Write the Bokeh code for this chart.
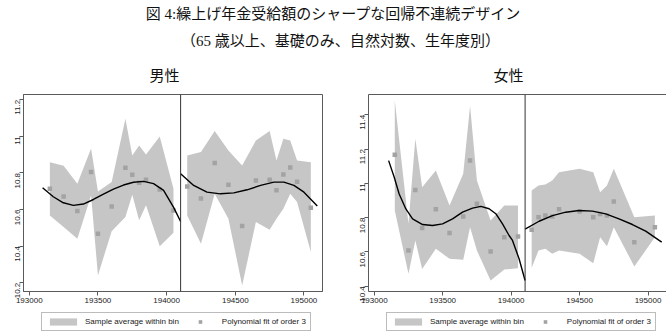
import math
from bokeh.plotting import figure
from bokeh.models import (Range1d, FixedTicker, LinearAxis, Legend, LegendItem,
                          Span, Label)
from bokeh.layouts import column, row
from bokeh.embed import file_html
from bokeh.resources import INLINE

# ---------------- texts ----------------
TITLE1 = "図 4:繰上げ年金受給額のシャープな回帰不連続デザイン"
TITLE2 = "（65 歳以上、基礎のみ、自然対数、生年度別）"
SUB_MALE = "男性"
SUB_FEMALE = "女性"
LEG_BAND = "Sample average within bin"
LEG_PTS = "Polynomial fit of order 3"

# ---------------- axes ----------------
X_TICKS = [193000, 193500, 194000, 194500, 195000]
X_TICK_LABELS = ["193000", "193500", "194000", "194500", "195000"]
X_RANGE = (192958, 195135)
CUTOFF = 194102

M_Y_TICKS = [10.2, 10.4, 10.6, 10.8, 11.0, 11.2]
M_Y_TICK_LABELS = ["10.2", "10.4", "10.6", "10.8", "11", "11.2"]
M_Y_RANGE = (10.152, 11.229)

F_Y_TICKS = [10.4, 10.6, 10.8, 11.0, 11.2, 11.4]
F_Y_TICK_LABELS = ["10.4", "10.6", "10.8", "11", "11.2", "11.4"]
F_Y_RANGE = (10.369, 11.519)

# ---------------- male data ----------------
m_bin_x_l = [193150, 193250, 193350, 193450, 193500, 193600, 193700, 193750, 193800, 193850, 193950, 194050]
m_val_l = [10.714, 10.672, 10.592, 10.805, 10.468, 10.617, 10.828, 10.790, 10.746, 10.763, 10.710, 10.595]
m_hi_l = [10.859, 10.839, 10.741, 10.934, 10.699, 10.750, 11.096, 10.896, 10.950, 10.901, 10.999, 10.714]
m_lo_l = [10.568, 10.504, 10.440, 10.677, 10.240, 10.482, 10.559, 10.681, 10.541, 10.623, 10.400, 10.473]

m_bin_x_r = [194150, 194250, 194350, 194450, 194550, 194650, 194750, 194800, 194850, 194900, 194950, 195050]
m_val_r = [10.726, 10.661, 10.854, 10.735, 10.510, 10.759, 10.763, 10.705, 10.792, 10.830, 10.752, 10.610]
m_hi_r = [10.896, 10.914, 11.029, 10.923, 10.841, 10.978, 11.029, 10.868, 10.987, 10.978, 10.868, 10.859]
m_lo_r = [10.568, 10.413, 10.686, 10.550, 10.185, 10.532, 10.490, 10.550, 10.604, 10.686, 10.641, 10.368]

m_fit_x_l = [193097, 193175, 193248, 193321, 193394, 193467, 193540, 193613, 193686, 193759, 193832, 193905, 193978, 194051, 194102]
m_fit_y_l = [10.719, 10.670, 10.637, 10.623, 10.630, 10.655, 10.684, 10.712, 10.734, 10.749, 10.754, 10.742, 10.705, 10.612, 10.535]
m_fit_x_r = [194102, 194197, 194294, 194392, 194489, 194586, 194684, 194781, 194854, 194927, 195000, 195097]
m_fit_y_r = [10.796, 10.732, 10.695, 10.686, 10.691, 10.708, 10.732, 10.750, 10.750, 10.732, 10.695, 10.620]

# ---------------- female data ----------------
f_bin_x_l = [193150, 193250, 193300, 193350, 193450, 193550, 193650, 193700, 193750, 193850, 193950, 194050]
f_val_l = [11.167, 10.608, 10.962, 10.739, 10.849, 10.711, 10.807, 11.133, 10.881, 10.602, 10.686, 10.690]
f_hi_l = [11.484, 10.764, 11.260, 10.978, 11.075, 10.871, 11.056, 11.454, 11.017, 10.783, 10.871, 10.871]
f_lo_l = [10.842, 10.472, 10.667, 10.500, 10.618, 10.560, 10.554, 10.744, 10.608, 10.433, 10.497, 10.505]

f_bin_x_r = [194150, 194200, 194250, 194300, 194350, 194500, 194600, 194650, 194700, 194750, 194900, 195050]
f_val_r = [10.729, 10.803, 10.812, 10.807, 10.849, 10.836, 10.803, 10.822, 10.812, 10.894, 10.657, 10.744]
f_hi_r = [10.958, 10.988, 10.993, 11.017, 11.065, 11.085, 11.065, 10.949, 10.988, 11.085, 10.803, 10.812]
f_lo_r = [10.507, 10.608, 10.618, 10.589, 10.608, 10.589, 10.534, 10.686, 10.633, 10.744, 10.515, 10.686]

f_fit_x_l = [193105, 193146, 193182, 193231, 193280, 193353, 193426, 193499, 193572, 193645, 193718, 193779, 193839, 193888, 193937, 193985, 194010, 194058, 194102]
f_fit_y_l = [11.133, 11.036, 10.938, 10.851, 10.793, 10.760, 10.754, 10.764, 10.793, 10.832, 10.856, 10.866, 10.852, 10.823, 10.764, 10.696, 10.667, 10.560, 10.433]
f_fit_x_r = [194102, 194204, 194302, 194399, 194496, 194594, 194691, 194788, 194886, 194983, 195100]
f_fit_y_r = [10.733, 10.779, 10.812, 10.832, 10.842, 10.838, 10.822, 10.793, 10.760, 10.721, 10.657]

# ---------------- styles ----------------
BAND = "#c6c6c6"
PTS = "#a3a3a3"
FRAME = "#5a5a5a"
TXT = "#1a1a1a"
SANS = "Liberation Sans"
SERIF = "'Liberation Serif', 'Noto Sans CJK JP', serif"


def style_axis(ax, ticks, labels, numeric_keys):
    ax.ticker = FixedTicker(ticks=ticks)
    if numeric_keys:
        ax.major_label_overrides = {int(t): l for t, l in zip(ticks, labels)}
    else:
        ax.major_label_overrides = {str(t): l for t, l in zip(ticks, labels)}
    ax.axis_line_color = FRAME
    ax.axis_line_width = 1
    ax.major_tick_line_color = FRAME
    ax.minor_tick_line_color = None
    ax.major_tick_out = 4
    ax.major_tick_in = 0
    ax.major_label_standoff = 2
    ax.major_label_text_font = SANS
    ax.major_label_text_font_size = "8px"
    ax.major_label_text_color = TXT


def panel(fw, bl, br, yr, yt, ytl, bx_l, v_l, hi_l, lo_l, bx_r, v_r, hi_r, lo_r,
          fx_l, fy_l, fx_r, fy_r, outline):
    p = figure(frame_width=fw, frame_height=197, x_range=Range1d(*X_RANGE), y_range=Range1d(*yr),
               output_backend="svg", toolbar_location=None,
               min_border_left=bl, min_border_right=br, min_border_top=9, min_border_bottom=16)
    p.grid.visible = False
    p.background_fill_color = "white"
    p.border_fill_color = "white"
    style_axis(p.below[0], X_TICKS, X_TICK_LABELS, True)
    style_axis(p.left[0], yt, ytl, False)
    p.left[0].major_label_orientation = math.pi / 2
    if outline:
        p.outline_line_color = FRAME
        p.outline_line_width = 1
    else:
        p.outline_line_color = None
        top = LinearAxis(ticker=FixedTicker(ticks=[]), axis_line_color=FRAME,
                         major_tick_line_color=None, minor_tick_line_color=None,
                         major_label_text_font_size="0px", major_tick_out=0,
                         major_label_standoff=0)
        p.add_layout(top, "above")

    p.varea(x=bx_l, y1=lo_l, y2=hi_l, fill_color=BAND)
    p.varea(x=bx_r, y1=lo_r, y2=hi_r, fill_color=BAND)
    p.scatter(x=bx_l, y=v_l, marker="square", size=4.5, fill_color=PTS, line_color=None)
    p.scatter(x=bx_r, y=v_r, marker="square", size=4.5, fill_color=PTS, line_color=None)
    p.line(x=fx_l, y=fy_l, line_color="black", line_width=1.4)
    p.line(x=fx_r, y=fy_r, line_color="black", line_width=1.4)
    p.add_layout(Span(location=CUTOFF, dimension="height", line_color="#333333", line_width=1))
    return p


def legend_strip(width, x_off, bx, v, hi, lo):
    # legend-only strip: the series are drawn with ranges that keep them out of view,
    # so only the legend swatches show
    lf = figure(width=width, height=28, x_range=Range1d(0, 1), y_range=Range1d(0, 1),
                output_backend="svg", toolbar_location=None, x_axis_type=None, y_axis_type=None,
                min_border=0)
    lf.grid.visible = False
    lf.outline_line_color = None
    va = lf.varea(x=bx, y1=lo, y2=hi, fill_color=BAND)
    sc = lf.scatter(x=bx, y=v, marker="square", size=4.5, fill_color=PTS, line_color=None)
    leg = Legend(items=[LegendItem(label=LEG_BAND, renderers=[va]),
                        LegendItem(label=LEG_PTS, renderers=[sc])],
                 orientation="horizontal", location=(x_off, 4),
                 glyph_width=34, glyph_height=9, label_height=9,
                 label_text_font=SANS, label_text_font_size="8px", label_text_color=TXT,
                 label_standoff=5, spacing=4, padding=4, margin=0,
                 border_line_color="#7a7a7a", border_line_width=1,
                 background_fill_color="white", background_fill_alpha=1.0)
    lf.add_layout(leg)
    return lf


p1 = panel(299, 23, 18, M_Y_RANGE, M_Y_TICKS, M_Y_TICK_LABELS,
           m_bin_x_l, m_val_l, m_hi_l, m_lo_l, m_bin_x_r, m_val_r, m_hi_r, m_lo_r,
           m_fit_x_l, m_fit_y_l, m_fit_x_r, m_fit_y_r, True)
p2 = panel(298, 28, 0, F_Y_RANGE, F_Y_TICKS, F_Y_TICK_LABELS,
           f_bin_x_l, f_val_l, f_hi_l, f_lo_l, f_bin_x_r, f_val_r, f_hi_r, f_lo_r,
           f_fit_x_l, f_fit_y_l, f_fit_x_r, f_fit_y_r, False)
l1 = legend_strip(340, 41, m_bin_x_l, m_val_l, m_hi_l, m_lo_l)
l2 = legend_strip(326, 46, f_bin_x_l, f_val_l, f_hi_l, f_lo_l)

# title strip
t = figure(width=666, height=85, x_range=Range1d(0, 666), y_range=Range1d(85, 0),
           output_backend="svg", toolbar_location=None, x_axis_type=None, y_axis_type=None,
           min_border=0)
t.grid.visible = False
t.outline_line_color = None
for txt, xx, yy in [(TITLE1, 333, 13), (TITLE2, 340, 40), (SUB_MALE, 164, 75), (SUB_FEMALE, 508, 75)]:
    t.add_layout(Label(x=xx, y=yy, text=txt, text_align="center", text_baseline="middle",
                       text_font=SERIF, text_font_size="15px", text_color="#111111"))

layout = column(t, row(p1, p2), row(l1, l2))
open("out.html", "w").write(file_html(layout, INLINE))
